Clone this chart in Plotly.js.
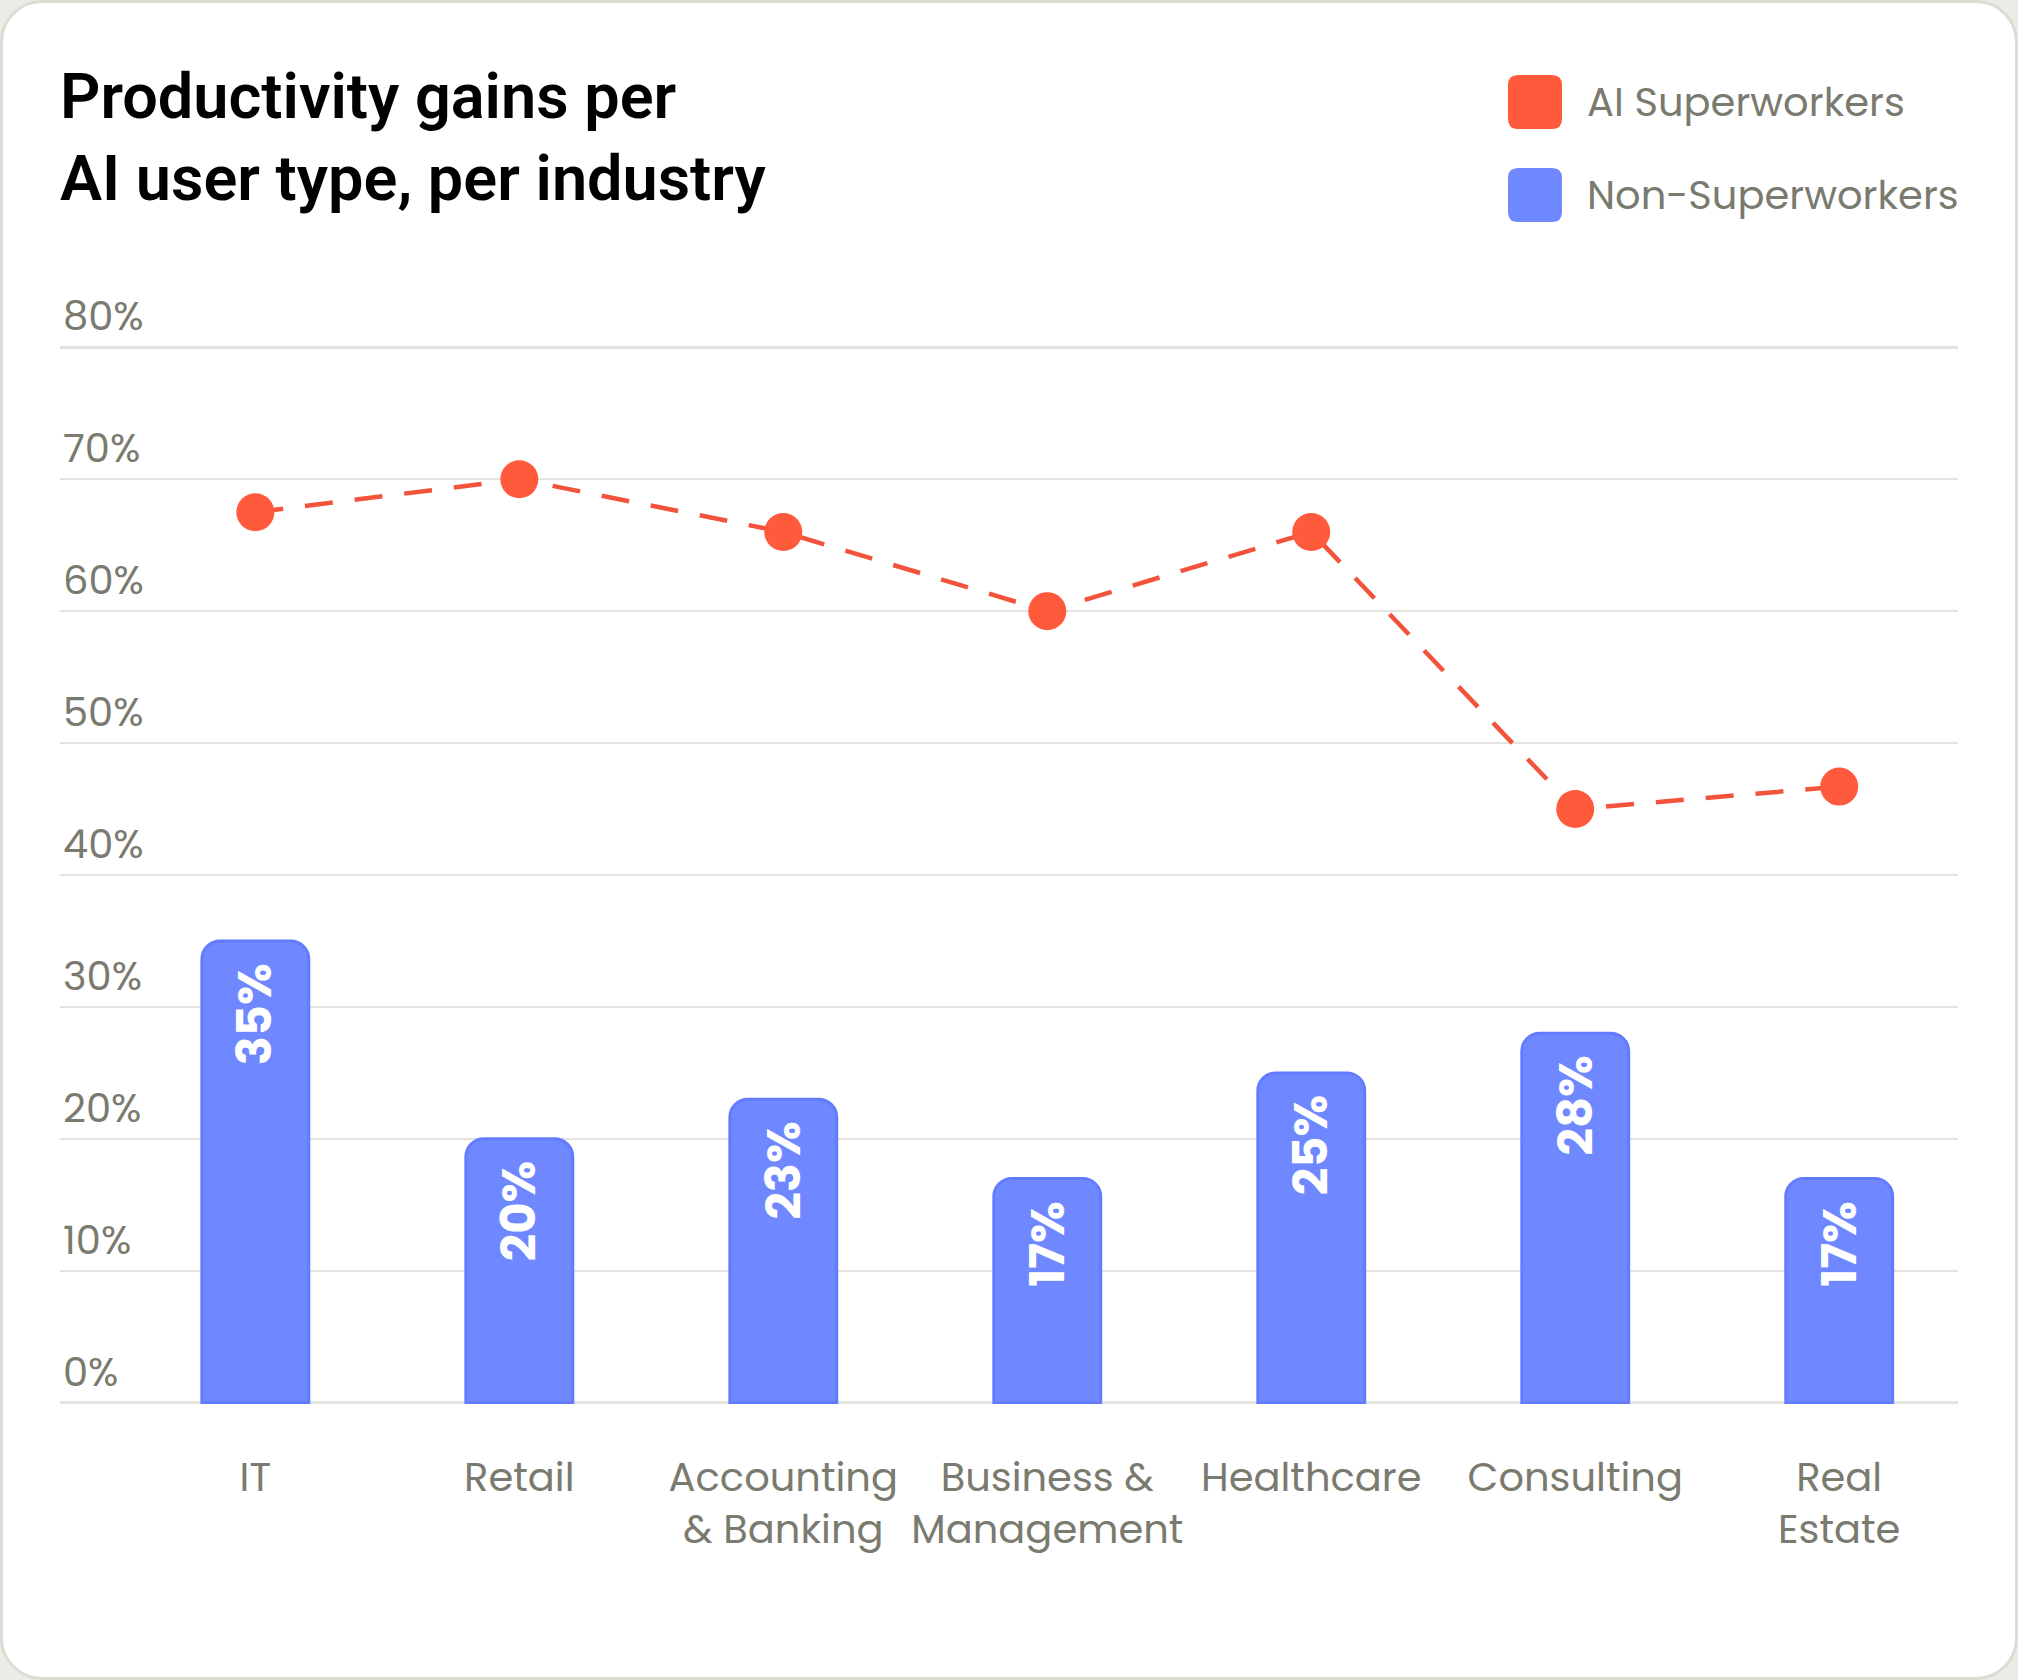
<!DOCTYPE html>
<html>
<head>
<meta charset="utf-8">
<script src="https://cdn.plot.ly/plotly-3.0.1.min.js"></script>
<style>
  html, body { margin: 0; padding: 0; background: #ecece6; }
  #card { position: absolute; left: 0; top: 0; width: 2018px; height: 1680px; box-sizing: border-box;
          border: 3px solid #dcdcd4; border-radius: 42px; background: #ffffff; }
  #chart { position: absolute; left: 0; top: 0; width: 2018px; height: 1680px; }
</style>
</head>
<body>
<div id="card"></div>
<div id="chart"></div>
<script>
// ---- data ----
const categories = ['IT', 'Retail', 'Accounting<br>& Banking', 'Business &<br>Management', 'Healthcare', 'Consulting', 'Real<br>Estate'];
const superworkers = [67.5, 70, 66, 60, 66, 45, 46.7];
const nonSuperworkers = [35, 20, 23, 17, 25, 28, 17];
const barLabels = ['35%', '20%', '23%', '17%', '25%', '28%', '17%'];
const yTickVals = [0, 10, 20, 30, 40, 50, 60, 70, 80];
const yTickText = ['0%', '10%', '20%', '30%', '40%', '50%', '60%', '70%', '80%'];
const seriesNames = ['AI Superworkers', 'Non-Superworkers'];

// ---- styles ----
const W = 2018, H = 1680;
const M = { l: 60, r: 60, t: 346, b: 276 };
const plotW = W - M.l - M.r, plotH = H - M.t - M.b;
const RED = '#ff5a3c', RED_LINE = '#f2533a', BLUE = '#6f88ff', GRAY = '#7a7a6f', GRID = '#e4e4de';
const TXT_FONT = 'Poppins, "Open Sans", sans-serif';

const bars = {
  type: 'bar', x: categories, y: nonSuperworkers, name: seriesNames[1],
  marker: { color: BLUE, line: { color: '#637cff', width: 3 }, cornerradius: 18 },
  hoverinfo: 'skip', showlegend: false
};
const line = {
  type: 'scatter', mode: 'lines+markers', x: categories, y: superworkers, name: seriesNames[0],
  line: { color: RED_LINE, width: 4.5, dash: '28px,22px' },
  marker: { color: RED, size: 38 },
  cliponaxis: false, hoverinfo: 'skip', showlegend: false
};

// bar value labels (rotated, inside top of each bar)
const annotations = categories.map((c, i) => ({
  x: c, y: nonSuperworkers[i], xref: 'x', yref: 'y', yshift: -20,
  text: barLabels[i], textangle: -90, showarrow: false,
  xanchor: 'center', yanchor: 'top',
  font: { family: TXT_FONT, size: 48, weight: 700, color: '#ffffff' }
}));

// legend (drawn as shapes + text)
const px2paperX = p => (p - M.l) / plotW;
const px2paperY = p => (H - M.b - p) / plotH;
const legendColors = [RED, BLUE];
const legendCY = [102, 195];
const sq = 27, rr = 10;
const roundedSquare = `M ${-sq + rr} ${-sq} L ${sq - rr} ${-sq} Q ${sq} ${-sq} ${sq} ${-sq + rr} L ${sq} ${sq - rr} Q ${sq} ${sq} ${sq - rr} ${sq} L ${-sq + rr} ${sq} Q ${-sq} ${sq} ${-sq} ${sq - rr} L ${-sq} ${-sq + rr} Q ${-sq} ${-sq} ${-sq + rr} ${-sq} Z`;
const shapes = seriesNames.map((n, i) => ({
  type: 'path', xref: 'paper', yref: 'paper', xsizemode: 'pixel', ysizemode: 'pixel',
  xanchor: px2paperX(1535), yanchor: px2paperY(legendCY[i]),
  path: roundedSquare, fillcolor: legendColors[i], line: { width: 0 }
}));
seriesNames.forEach((n, i) => annotations.push({
  xref: 'paper', yref: 'paper', x: px2paperX(1585), y: px2paperY(legendCY[i]),
  xanchor: 'left', yanchor: 'middle', showarrow: false, text: n,
  font: { family: TXT_FONT, size: 40, color: GRAY }
}));

const layout = {
  width: W, height: H, margin: M,
  paper_bgcolor: 'rgba(0,0,0,0)', plot_bgcolor: 'rgba(0,0,0,0)',
  showlegend: false, bargap: 0.595,
  title: {
    text: 'Productivity gains per<br>AI user type, per industry',
    x: 60 / W, xref: 'container', xanchor: 'left',
    y: 1 - 118 / H, yref: 'container', yanchor: 'top',
    font: { family: 'Roboto, sans-serif', size: 63, weight: 600, color: '#000000' }
  },
  xaxis: {
    type: 'category', range: [-0.74, 6.45], showgrid: false, zeroline: false, showline: false,
    ticks: '', ticklabelstandoff: 46, tickangle: 0,
    tickfont: { family: TXT_FONT, size: 40, color: GRAY }
  },
  yaxis: {
    range: [-0.1, 80.1], tickvals: yTickVals, ticktext: yTickText,
    showgrid: true, gridcolor: GRID, gridwidth: 2.5, zeroline: false, showline: false, ticks: '',
    ticklabelposition: 'inside top', ticklabeloverflow: 'allow', ticklabelshift: -3,
    tickfont: { family: TXT_FONT, size: 40, color: GRAY }
  },
  shapes: shapes,
  annotations: annotations,
  hovermode: false
};

Plotly.newPlot('chart', [bars, line], layout, { displayModeBar: false, staticPlot: true });
</script>
</body>
</html>
